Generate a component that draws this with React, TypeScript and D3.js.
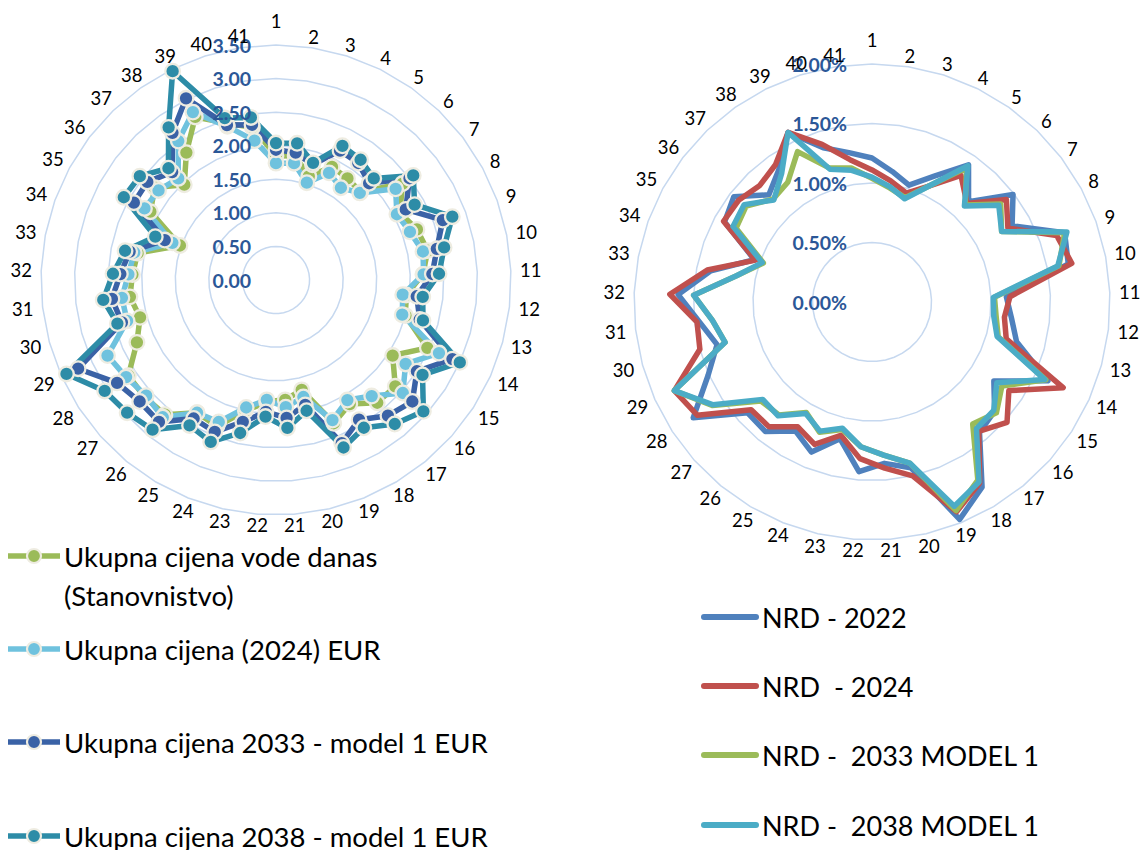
import React from "react";
import * as d3 from "d3";

// ---------------- DATA ----------------
const CATEGORIES = [
  "1", "2", "3", "4", "5", "6", "7", "8", "9", "10",
  "11", "12", "13", "14", "15", "16", "17", "18", "19", "20",
  "21", "22", "23", "24", "25", "26", "27", "28", "29", "30",
  "31", "32", "33", "34", "35", "36", "37", "38", "39", "40", "41",
];

const LEFT_TICKS = [0, 0.5, 1, 1.5, 2, 2.5, 3, 3.5];
const RIGHT_TICKS = [0, 0.005, 0.01, 0.015, 0.02];

// Left chart (EUR)
const cijenaDanas = [
  1.85, 1.87, 1.62, 1.88, 1.85, 1.82, 2.37, 2.10, 2.23, 2.30,
  2.19, 1.95, 2.00, 2.47, 2.07, 2.38, 2.37, 2.15, 2.30, 1.68,
  1.79, 1.82, 2.00, 2.35, 2.30, 2.60, 2.62, 2.62, 2.27, 2.10,
  2.19, 2.14, 2.10, 1.52, 2.13, 2.27, 1.97, 2.32, 2.71, 2.45, 2.30,
];
const cijena2024 = [
  1.74, 1.76, 1.52, 1.78, 1.68, 1.80, 2.24, 2.05, 2.12, 2.23,
  2.20, 1.90, 1.95, 2.66, 2.30, 2.53, 2.24, 2.08, 2.25, 1.79,
  1.90, 1.79, 1.95, 2.28, 2.30, 2.65, 2.59, 2.66, 2.75, 2.30,
  2.31, 2.20, 2.15, 1.64, 2.23, 2.20, 2.10, 2.53, 2.79, 2.40, 2.10,
];
const cijena2033 = [
  1.94, 1.92, 1.80, 2.15, 2.13, 2.00, 2.50, 2.20, 2.64, 2.44,
  2.33, 2.11, 2.22, 2.88, 2.50, 2.72, 2.62, 2.42, 2.62, 1.91,
  2.06, 1.97, 2.17, 2.44, 2.40, 2.74, 2.72, 2.82, 3.23, 2.38,
  2.46, 2.32, 2.22, 1.76, 2.41, 2.41, 2.23, 2.68, 3.02, 2.42, 2.34,
];
const cijena2038 = [
  2.04, 2.06, 1.83, 2.23, 2.19, 2.10, 2.57, 2.35, 2.79, 2.55,
  2.43, 2.20, 2.27, 3.00, 2.60, 2.94, 2.78, 2.56, 2.69, 2.00,
  2.21, 2.04, 2.34, 2.60, 2.52, 2.89, 2.97, 3.04, 3.42, 2.45,
  2.59, 2.43, 2.29, 1.91, 2.58, 2.55, 2.31, 2.78, 3.47, 2.53, 2.45,
];

// Right chart (share, %)
const nrd2022 = [
  1.21, 1.11, 1.03, 1.18, 1.41, 1.17, 1.49, 1.34, 1.72, 1.68,
  1.13, 1.18, 1.26, 1.62, 1.22, 1.38, 1.42, 1.81, 1.97, 1.43,
  1.36, 1.43, 1.18, 1.36, 1.26, 1.41, 1.40, 1.79, 1.51, 1.35,
  1.46, 1.63, 1.38, 1.05, 1.41, 1.46, 1.25, 1.36, 1.59, 1.36, 1.27,
].map((v) => v / 100);
const nrd2024 = [
  1.11, 1.03, 0.96, 1.09, 1.30, 1.15, 1.42, 1.30, 1.65, 1.71,
  1.16, 1.12, 1.17, 1.76, 1.37, 1.52, 1.41, 1.77, 1.90, 1.50,
  1.40, 1.32, 1.15, 1.29, 1.22, 1.36, 1.36, 1.75, 1.82, 1.50,
  1.48, 1.70, 1.41, 1.04, 1.42, 1.41, 1.36, 1.41, 1.59, 1.39, 1.21,
].map((v) => v / 100);
const nrd2033 = [
  1.04, 0.97, 0.92, 1.09, 1.38, 1.13, 1.36, 1.24, 1.72, 1.60,
  1.03, 1.05, 1.10, 1.60, 1.30, 1.40, 1.33, 1.74, 1.89, 1.39,
  1.29, 1.22, 1.10, 1.18, 1.08, 1.23, 1.25, 1.60, 1.82, 1.28,
  1.35, 1.50, 1.16, 0.97, 1.30, 1.33, 1.20, 1.23, 1.41, 1.18, 1.14,
].map((v) => v / 100);
const nrd2038 = [
  1.05, 0.98, 0.91, 1.09, 1.40, 1.12, 1.34, 1.24, 1.74, 1.59,
  1.02, 1.03, 1.09, 1.59, 1.25, 1.37, 1.38, 1.76, 1.85, 1.39,
  1.29, 1.22, 1.09, 1.17, 1.09, 1.24, 1.23, 1.59, 1.82, 1.28,
  1.35, 1.50, 1.16, 0.98, 1.33, 1.35, 1.19, 1.32, 1.59, 1.17, 1.12,
].map((v) => v / 100);

const LEFT_NAMES = [
  ["Ukupna cijena vode danas", "(Stanovnistvo)"],
  ["Ukupna cijena (2024) EUR"],
  ["Ukupna cijena 2033 - model 1 EUR"],
  ["Ukupna cijena 2038 - model 1 EUR"],
];
const RIGHT_NAMES = ["NRD - 2022", "NRD  - 2024", "NRD -  2033 MODEL 1", "NRD -  2038 MODEL 1"];

// ---------------- STYLE ----------------
const FONT = "Lato, 'Open Sans', sans-serif";
const GRID = "#C6D8EF";
const TICK_COLOR = "#2B5797";
const LEFT_COLORS = ["#9BBB59", "#6FC2DE", "#3A62A6", "#2D8CA7"];
const RIGHT_COLORS = ["#4F81BD", "#C0504D", "#9BBB59", "#4BACC6"];
const MARKER_STROKE = "#EEECE1";

type Series = { values: number[]; color: string };

function Radar(props: {
  cx: number;
  cy: number;
  R: number;
  max: number;
  ticks: number[];
  fmt: (v: number) => string;
  series: Series[];
  markers: boolean;
  lineWidth: number;
}) {
  const { cx, cy, R, max, ticks, fmt, series, markers, lineWidth } = props;
  const n = CATEGORIES.length;
  const r = d3.scaleLinear().domain([0, max]).range([0, R]);
  const a = d3.scaleLinear().domain([0, n]).range([0, 2 * Math.PI]);
  const idx = d3.range(n);

  const ring = (v: number) =>
    d3
      .lineRadial<number>()
      .angle((i) => a(i))
      .radius(() => r(v))
      .curve(d3.curveLinearClosed)(idx) as string;

  const seriesPath = (vals: number[]) =>
    d3
      .lineRadial<number>()
      .angle((_, i) => a(i))
      .radius((v) => r(v))
      .curve(d3.curveLinearClosed)(vals) as string;

  const labelFs = 18.5;
  return (
    <g transform={`translate(${cx},${cy})`}>
      {ticks
        .filter((t) => t > 0)
        .map((t) => (
          <path key={t} d={ring(t)} fill="none" stroke={GRID} strokeWidth={1.5} />
        ))}
      {series.map((s, si) => (
        <path
          key={si}
          d={seriesPath(s.values)}
          fill="none"
          stroke={s.color}
          strokeWidth={lineWidth}
          strokeLinejoin="round"
        />
      ))}
      {markers &&
        series.map((s, si) => (
          <g key={"m" + si}>
            {s.values.map((v, i) => (
              <circle
                key={i}
                cx={r(v) * Math.sin(a(i))}
                cy={-r(v) * Math.cos(a(i))}
                r={7.3}
                fill={s.color}
                stroke={MARKER_STROKE}
                strokeWidth={2.3}
              />
            ))}
          </g>
        ))}
      {ticks.map((t) => (
        <text
          key={"t" + t}
          x={-25}
          y={-r(t)}
          textAnchor="end"
          dominantBaseline="central"
          fontFamily={FONT}
          fontWeight={700}
          fontSize={19.5}
          fill={TICK_COLOR}
        >
          {fmt(t)}
        </text>
      ))}
      {CATEGORIES.map((c, i) => {
        const ang = a(i);
        const w = c.length * labelFs * 0.54;
        const ext = (Math.abs(Math.sin(ang)) * w) / 2;
        const rr = R + 10 + ext + (i === 0 ? 14 : 0);
        return (
          <text
            key={"c" + i}
            x={rr * Math.sin(ang)}
            y={-rr * Math.cos(ang)}
            textAnchor="middle"
            dominantBaseline="central"
            fontFamily={FONT}
            fontSize={labelFs}
            fill="#000"
          >
            {c}
          </text>
        );
      })}
    </g>
  );
}

export default function App() {
  const leftSeries: Series[] = [cijenaDanas, cijena2024, cijena2033, cijena2038].map((v, i) => ({
    values: v,
    color: LEFT_COLORS[i],
  }));
  const rightSeries: Series[] = [nrd2022, nrd2024, nrd2033, nrd2038].map((v, i) => ({
    values: v,
    color: RIGHT_COLORS[i],
  }));

  const leftLegendY = [556, 649, 742, 836];
  const rightLegendY = [617, 686, 755, 825];

  return (
    <svg
      width={1140}
      height={850}
      style={{ position: "absolute", left: 0, top: 0, background: "#fff" }}
    >
      <Radar
        cx={276}
        cy={280}
        R={235}
        max={3.5}
        ticks={LEFT_TICKS}
        fmt={d3.format(".2f")}
        series={leftSeries}
        markers={true}
        lineWidth={5.5}
      />
      <Radar
        cx={872}
        cy={302}
        R={238}
        max={0.02}
        ticks={RIGHT_TICKS}
        fmt={d3.format(".2%")}
        series={rightSeries}
        markers={false}
        lineWidth={5.5}
      />
      {/* left legend */}
      {LEFT_NAMES.map((lines, i) => (
        <g key={"ll" + i}>
          <line x1={8} x2={60} y1={leftLegendY[i]} y2={leftLegendY[i]} stroke={LEFT_COLORS[i]} strokeWidth={5.5} />
          <circle cx={34} cy={leftLegendY[i]} r={7} fill={LEFT_COLORS[i]} stroke={MARKER_STROKE} strokeWidth={2.2} />
          {lines.map((t, j) => (
            <text
              key={j}
              x={64}
              y={leftLegendY[i] + j * 39}
              dominantBaseline="central"
              fontFamily={FONT}
              fontSize={27.5}
              fill="#000"
            >
              {t}
            </text>
          ))}
        </g>
      ))}
      {/* right legend */}
      {RIGHT_NAMES.map((t, i) => (
        <g key={"rl" + i}>
          <line
            x1={704}
            x2={756}
            y1={rightLegendY[i]}
            y2={rightLegendY[i]}
            stroke={RIGHT_COLORS[i]}
            strokeWidth={6}
            strokeLinecap="round"
          />
          <text
            x={762}
            y={rightLegendY[i]}
            dominantBaseline="central"
            fontFamily={FONT}
            fontSize={27}
            fill="#000"
            style={{ whiteSpace: "pre" }}
          >
            {t}
          </text>
        </g>
      ))}
    </svg>
  );
}
